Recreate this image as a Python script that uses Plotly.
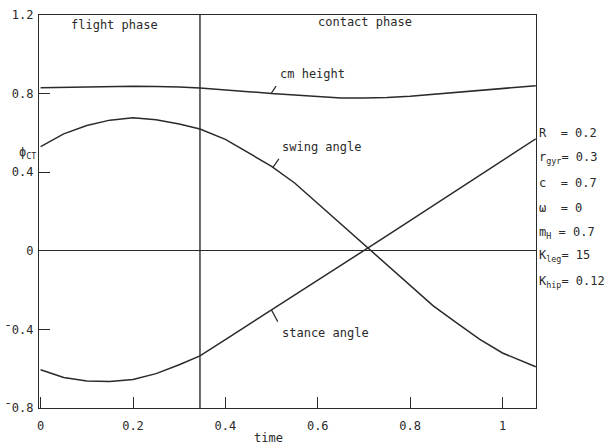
import numpy as np
import plotly.graph_objects as go

# ---- data ----
time = [0.0, 0.05, 0.10, 0.15, 0.20, 0.25, 0.30, 0.345, 0.40, 0.45, 0.50, 0.55,
        0.60, 0.65, 0.70, 0.75, 0.80, 0.85, 0.90, 0.95, 1.00, 1.05, 1.072]
cm_height = [0.830, 0.832, 0.835, 0.837, 0.837, 0.836, 0.834, 0.828, 0.820, 0.810,
             0.800, 0.792, 0.785, 0.778, 0.777, 0.780, 0.787, 0.797, 0.808, 0.818,
             0.827, 0.836, 0.840]
swing_angle = [0.530, 0.595, 0.638, 0.665, 0.677, 0.667, 0.645, 0.620, 0.567, 0.497,
               0.430, 0.345, 0.240, 0.135, 0.035, -0.070, -0.175, -0.280, -0.365,
               -0.450, -0.520, -0.570, -0.590]
stance_angle = [-0.605, -0.645, -0.663, -0.665, -0.655, -0.625, -0.580, -0.535, -0.452,
                -0.377, -0.302, -0.226, -0.150, -0.075, 0.000, 0.077, 0.153, 0.230,
                0.307, 0.383, 0.460, 0.536, 0.570]
contact_start = 0.345

x_ticks = [0, 0.2, 0.4, 0.6, 0.8, 1]
x_ticktext = ["0", "0.2", "0.4", "0.6", "0.8", "1"]
y_ticks = [-0.8, -0.4, 0, 0.4, 0.8, 1.2]
y_ticktext = ["¯0.8", "¯0.4", "0", "0.4", "0.8", "1.2"]

params = ["R  = 0.2", "r<sub>gyr</sub>= 0.3", "c  = 0.7", "ω  = 0",
          "m<sub>H</sub> = 0.7", "K<sub>leg</sub>= 15", "K<sub>hip</sub>= 0.12"]
param_y = [0.60, 0.472, 0.345, 0.218, 0.09, -0.026, -0.159]

FONT = "DejaVu Sans Mono"
INK = "#2a2a2a"

fig = go.Figure()
for y in (cm_height, swing_angle, stance_angle):
    fig.add_trace(go.Scatter(x=time, y=y, mode="lines",
                             line=dict(color=INK, width=1.5), showlegend=False,
                             hoverinfo="skip"))

fig.add_vline(x=contact_start, line=dict(color=INK, width=1.4))

ann = []
# curve labels with short pointer lines
labels = [("cm height", cm_height, 0.499, 6, -9, 0.515, 0.900),
          ("swing angle", swing_angle, 0.503, 7, -10, 0.518, 0.528),
          ("stance angle", stance_angle, 0.500, 7, 13, 0.518, -0.418)]
for txt, ser, tp, dx, dy, tx, ty in labels:
    yp = float(np.interp(tp, time, ser))
    ann.append(dict(x=tp, y=yp, ax=dx, ay=dy, text="", showarrow=True,
                    arrowhead=0, arrowwidth=1.2, arrowcolor=INK, standoff=0,
                    startstandoff=0))
    ann.append(dict(x=tx, y=ty, text=txt, showarrow=False, xanchor="left",
                    yanchor="middle"))

ann.append(dict(x=0.16, y=1.149, text="flight phase", showarrow=False))
ann.append(dict(x=0.702, y=1.164, text="contact phase", showarrow=False))
ann.append(dict(x=0.494, xref="x", y=0, yref="paper", yshift=-30, text="time",
                showarrow=False, yanchor="middle"))
ann.append(dict(x=0, xref="paper", xshift=-22, y=0.50, yref="y", xanchor="left",
                yanchor="middle", text="ϕ<sub>CT</sub>", showarrow=False))
for txt, py in zip(params, param_y):
    ann.append(dict(x=1, xref="paper", xshift=1, y=py, yref="y", text=txt,
                    showarrow=False, xanchor="left", yanchor="middle"))

fig.update_layout(
    width=616, height=447,
    margin=dict(l=39, r=80, t=15, b=39),
    paper_bgcolor="white", plot_bgcolor="white",
    font=dict(family=FONT, size=12, color=INK),
    annotations=ann,
    xaxis=dict(range=[-0.0035, 1.0725], tickvals=x_ticks, ticktext=x_ticktext,
               ticks="inside", ticklen=11, tickwidth=1.2, tickcolor=INK,
               showline=True, mirror=True, linecolor=INK, linewidth=1.4,
               showgrid=False, zeroline=False, ticklabelstandoff=6,
               automargin=False),
    yaxis=dict(range=[-0.8, 1.2], tickvals=y_ticks, ticktext=y_ticktext,
               ticks="inside", ticklen=11, tickwidth=1.2, tickcolor=INK,
               showline=True, mirror=True, linecolor=INK, linewidth=1.4,
               showgrid=False, zeroline=True, zerolinecolor=INK, zerolinewidth=1.4,
               ticklabelstandoff=2, automargin=False),
)

fig.write_html("out.html")
